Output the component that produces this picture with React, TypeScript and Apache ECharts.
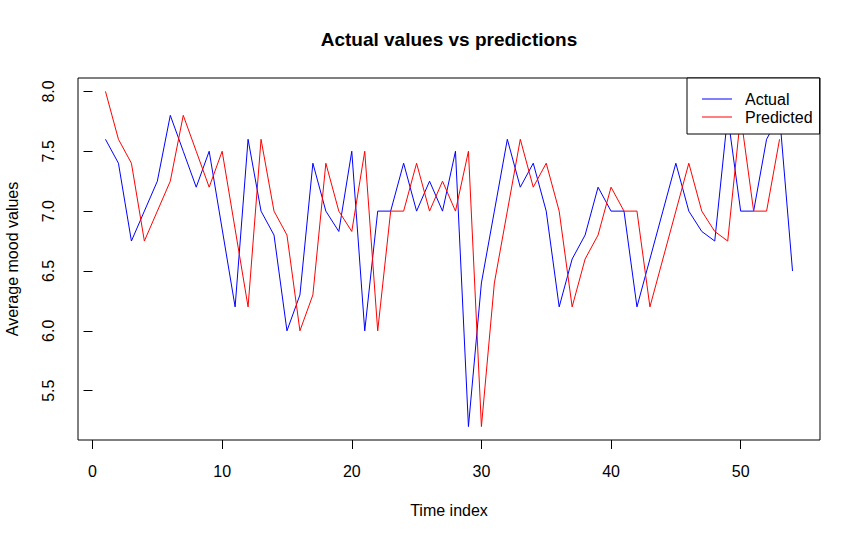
import React, { useEffect, useRef } from "react";
import * as echarts from "echarts";

const actual: number[] = [
  7.6, 7.4, 6.75, 7.0, 7.25, 7.8, 7.5, 7.2, 7.5, 6.85,
  6.2, 7.6, 7.0, 6.8, 6.0, 6.3, 7.4, 7.0, 6.83, 7.5,
  6.0, 7.0, 7.0, 7.4, 7.0, 7.25, 7.0, 7.5, 5.2, 6.4,
  7.0, 7.6, 7.2, 7.4, 7.0, 6.2, 6.6, 6.8, 7.2, 7.0,
  7.0, 6.2, 6.6, 7.0, 7.4, 7.0, 6.83, 6.75, 7.8, 7.0,
  7.0, 7.6, 7.8, 6.5,
];

const predicted: number[] = [
  8.0, 7.6, 7.4, 6.75, 7.0, 7.25, 7.8, 7.5, 7.2, 7.5,
  6.85, 6.2, 7.6, 7.0, 6.8, 6.0, 6.3, 7.4, 7.0, 6.83,
  7.5, 6.0, 7.0, 7.0, 7.4, 7.0, 7.25, 7.0, 7.5, 5.2,
  6.4, 7.0, 7.6, 7.2, 7.4, 7.0, 6.2, 6.6, 6.8, 7.2,
  7.0, 7.0, 6.2, 6.6, 7.0, 7.4, 7.0, 6.83, 6.75, 7.8,
  7.0, 7.0, 7.6,
];

const xTicks: number[] = [0, 10, 20, 30, 40, 50];
const yTicks: number[] = [5.5, 6.0, 6.5, 7.0, 7.5, 8.0];

const FONT = "'Liberation Sans', Arial, Helvetica, sans-serif";

export default function App() {
  const ref = useRef<HTMLDivElement>(null);

  useEffect(() => {
    if (!ref.current) return;
    const chart = echarts.init(ref.current, undefined, { renderer: "svg" });

    const actualData = actual.map((v, i) => [i + 1, v]);
    const predictedData = predicted.map((v, i) => [i + 1, v]);

    chart.setOption({
      animation: false,
      backgroundColor: "#ffffff",
      textStyle: { fontFamily: FONT },
      title: {
        text: "Actual values vs predictions",
        left: 449,
        top: 30,
        textAlign: "center",
        padding: 0,
        textStyle: { fontSize: 19, fontWeight: "bold", color: "#000", fontFamily: FONT },
      },
      grid: {
        left: 78,
        right: 41,
        top: 78,
        bottom: 99,
        show: true,
        borderColor: "#000",
        borderWidth: 1,
        backgroundColor: "transparent",
        containLabel: false,
        outerBoundsMode: "none",
      },
      legend: {
        data: ["Actual", "Predicted"],
        orient: "vertical",
        left: 687,
        top: 78,
        padding: [13, 7, 9, 15],
        backgroundColor: "#ffffff",
        borderColor: "#000",
        borderWidth: 1,
        borderRadius: 0,
        icon: "rect",
        itemWidth: 30,
        itemHeight: 1,
        itemGap: 2,
        textStyle: { fontSize: 16, lineHeight: 16, color: "#000", padding: [0, 0, 0, 8], fontFamily: FONT },
      },
      xAxis: {
        type: "value",
        min: -1.12,
        max: 56.12,
        name: "Time index",
        nameLocation: "middle",
        nameGap: 62,
        nameTextStyle: { fontSize: 16, color: "#000", fontFamily: FONT },
        axisLine: { show: false },
        axisTick: {
          show: true,
          length: 9,
          customValues: xTicks,
          lineStyle: { color: "#000", width: 1 },
        },
        axisLabel: {
          customValues: xTicks,
          fontSize: 16,
          color: "#000",
          margin: 23,
          fontFamily: FONT,
        },
        splitLine: { show: false },
      },
      yAxis: {
        type: "value",
        min: 5.088,
        max: 8.112,
        name: "Average mood values",
        nameLocation: "middle",
        nameRotate: 90,
        nameGap: 58,
        nameTextStyle: { fontSize: 16, color: "#000", fontFamily: FONT },
        axisLine: { show: false },
        axisTick: {
          show: true,
          length: 9,
          customValues: yTicks,
          lineStyle: { color: "#000", width: 1 },
        },
        axisLabel: {
          customValues: yTicks,
          rotate: 90,
          fontSize: 16,
          color: "#000",
          margin: 22,
          fontFamily: FONT,
          formatter: (v: number) => v.toFixed(1),
        },
        splitLine: { show: false },
      },
      series: [
        {
          name: "Actual",
          type: "line",
          data: actualData,
          symbol: "none",
          lineStyle: { color: "#0000ff", width: 1 },
          itemStyle: { color: "#0000ff" },
        },
        {
          name: "Predicted",
          type: "line",
          data: predictedData,
          symbol: "none",
          lineStyle: { color: "#ff0000", width: 1 },
          itemStyle: { color: "#ff0000" },
        },
      ],
    });

    return () => {
      chart.dispose();
    };
  }, []);

  return (
    <div
      ref={ref}
      style={{ position: "fixed", left: 0, top: 0, width: 861, height: 539 }}
    />
  );
}
